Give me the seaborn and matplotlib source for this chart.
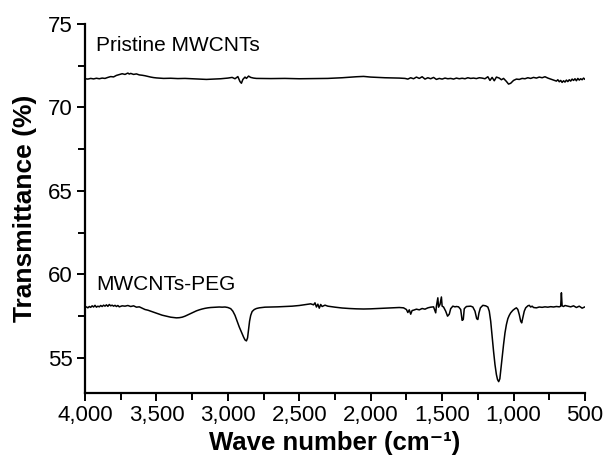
import matplotlib
matplotlib.use("Agg")
import matplotlib.pyplot as plt
from matplotlib.ticker import MultipleLocator, FuncFormatter
import seaborn as sns
import pandas as pd

# ---- data ----
pristine_wn = [4000, 3980, 3960, 3940, 3920, 3900, 3880, 3860, 3840, 3820, 3800, 3780, 3760, 3740,
               3720, 3700, 3690, 3680, 3660, 3640, 3620, 3600, 3580, 3560, 3540, 3520, 3500, 3450,
               3400, 3350, 3300, 3250, 3200, 3150, 3100, 3050, 3000, 2970, 2950, 2930, 2915, 2905,
               2895, 2880, 2870, 2855, 2840, 2820, 2800, 2700, 2600, 2500, 2400, 2300, 2200, 2100,
               2050, 2000, 1950, 1900, 1850, 1800, 1760, 1740, 1720, 1700, 1680, 1660, 1640, 1620,
               1600, 1580, 1560, 1540, 1520, 1500, 1480, 1460, 1440, 1420, 1400, 1380, 1360, 1340,
               1320, 1300, 1280, 1260, 1240, 1220, 1200, 1180, 1165, 1150, 1135, 1120, 1100, 1085,
               1070, 1050, 1035, 1020, 1000, 980, 960, 940, 920, 900, 880, 860, 840, 820, 800, 780,
               760, 740, 720, 700, 690, 680, 670, 660, 650, 640, 630, 620, 610, 600, 590, 580, 570,
               560, 550, 540, 530, 520, 510, 500]
pristine_t = [71.72, 71.70, 71.74, 71.71, 71.75, 71.72, 71.76, 71.74, 71.80, 71.85, 71.83, 71.92, 71.97, 72.02,
              71.98, 72.06, 72.00, 72.04, 71.98, 72.01, 71.95, 71.93, 71.90, 71.86, 71.82, 71.79, 71.77, 71.74,
              71.75, 71.73, 71.74, 71.72, 71.70, 71.68, 71.70, 71.72, 71.76, 71.80, 71.72, 71.85, 71.55, 71.45,
              71.68, 71.82, 71.74, 71.88, 71.80, 71.76, 71.74, 71.73, 71.74, 71.72, 71.73, 71.74, 71.78, 71.84,
              71.86, 71.82, 71.80, 71.78, 71.77, 71.76, 71.74, 71.70, 71.78, 71.72, 71.82, 71.74, 71.84, 71.70,
              71.78, 71.72, 71.80, 71.68, 71.74, 71.70, 71.76, 71.72, 71.74, 71.70, 71.76, 71.72, 71.75, 71.72,
              71.78, 71.74, 71.76, 71.73, 71.78, 71.76, 71.72, 71.84, 71.62, 71.80, 71.60, 71.82, 71.76, 71.66,
              71.74, 71.56, 71.40, 71.45, 71.62, 71.70, 71.68, 71.74, 71.72, 71.78, 71.74, 71.80, 71.76, 71.82,
              71.78, 71.84, 71.76, 71.70, 71.64, 71.58, 71.66, 71.54, 71.62, 71.50, 71.60, 71.52, 71.64, 71.55,
              71.66, 71.58, 71.70, 71.62, 71.72, 71.60, 71.74, 71.64, 71.72, 71.66, 71.76, 71.68]

peg_wn = [4000, 3990, 3980, 3970, 3960, 3950, 3940, 3930, 3920, 3910, 3900, 3890, 3880, 3870, 3860,
          3850, 3840, 3830, 3820, 3810, 3800, 3790, 3780, 3770, 3760, 3740, 3720, 3700, 3680, 3660,
          3640, 3620, 3600, 3580, 3560, 3540, 3520, 3500, 3480, 3460, 3440, 3420, 3400, 3380, 3360,
          3340, 3320, 3300, 3280, 3260, 3240, 3220, 3200, 3180, 3160, 3140, 3120, 3100, 3080, 3060,
          3040, 3020, 3000, 2980, 2965, 2950, 2935, 2920, 2905, 2890, 2880, 2870, 2862, 2855, 2848,
          2840, 2830, 2815, 2800, 2780, 2760, 2740, 2700, 2650, 2600, 2550, 2500, 2450, 2420, 2400,
          2390, 2380, 2370, 2360, 2350, 2340, 2320, 2300, 2250, 2200, 2150, 2100, 2050, 2000, 1950,
          1900, 1850, 1800, 1770, 1750, 1740, 1730, 1720, 1710, 1700, 1680, 1660, 1640, 1620, 1600,
          1580, 1560, 1545, 1540, 1530, 1525, 1515, 1505, 1500, 1490, 1475, 1462, 1450, 1440, 1425,
          1410, 1400, 1385, 1370, 1360, 1352, 1345, 1330, 1300, 1285, 1270, 1258, 1250, 1242, 1232,
          1215, 1195, 1180, 1170, 1160, 1150, 1140, 1130, 1120, 1112, 1104, 1096, 1088, 1080, 1070,
          1060, 1050, 1040, 1030, 1020, 1005, 990, 980, 970, 960, 950, 943, 935, 925, 915, 900,
          890, 880, 870, 860, 840, 820, 800, 780, 760, 740, 720, 700, 680, 670, 665, 660, 650,
          640, 620, 600, 580, 560, 540, 520, 500]
peg_t = [58.02, 58.06, 58.00, 58.08, 58.03, 58.12, 58.05, 58.15, 58.04, 58.10, 58.06, 58.14, 58.08, 58.16, 58.10,
         58.18, 58.09, 58.20, 58.12, 58.16, 58.10, 58.15, 58.08, 58.14, 58.06, 58.12, 58.10, 58.14, 58.08, 58.12,
         58.04, 58.06, 57.98, 57.90, 57.86, 57.80, 57.74, 57.68, 57.62, 57.56, 57.52, 57.48, 57.44, 57.42, 57.40,
         57.41, 57.44, 57.50, 57.58, 57.66, 57.74, 57.82, 57.88, 57.93, 57.97, 58.00, 58.02, 58.03, 58.04, 58.05,
         58.04, 58.05, 58.02, 57.95, 57.80, 57.55, 57.20, 56.85, 56.55, 56.25, 56.08, 56.02, 56.20, 56.70, 57.20,
         57.55, 57.78, 57.90, 57.96, 58.00, 58.02, 58.04, 58.05, 58.06, 58.08, 58.10, 58.14, 58.20, 58.24, 58.18,
         58.30, 58.05, 58.22, 57.98, 58.20, 58.08, 58.16, 58.10, 58.04, 57.99, 57.96, 57.94, 57.93, 57.94, 57.96,
         57.98, 58.00, 58.02, 58.00, 57.90, 57.72, 57.88, 57.62, 57.84, 57.86, 57.92, 57.88, 57.96, 57.92, 58.00,
         58.04, 58.06, 57.70, 58.10, 58.60, 58.04, 58.20, 58.65, 58.10, 58.05, 57.80, 57.50, 57.62, 57.95, 58.10,
         58.06, 58.08, 58.06, 57.90, 57.25, 57.30, 57.95, 58.08, 58.10, 58.05, 57.80, 57.35, 57.30, 57.70, 58.00,
         58.15, 58.12, 58.05, 57.80, 57.20, 56.30, 55.40, 54.60, 54.00, 53.70, 53.58, 53.75, 54.30, 55.00, 55.80,
         56.50, 57.00, 57.35, 57.55, 57.70, 57.85, 57.95, 58.00, 57.90, 57.60, 57.20, 57.10, 57.40, 57.80, 58.00, 58.12,
         58.15, 58.05, 58.10, 58.02, 58.00, 58.05, 58.03, 58.06, 58.04, 58.07, 58.05, 58.08, 58.06, 58.10, 58.90, 58.12, 58.08,
         58.14, 58.10, 58.06, 58.12, 58.02, 58.10, 57.98, 58.06]

series_labels = ["Pristine MWCNTs", "MWCNTs-PEG"]
x_ticks = [4000, 3500, 3000, 2500, 2000, 1500, 1000, 500]
y_ticks = [55, 60, 65, 70, 75]

df = pd.concat([
    pd.DataFrame({"wn": pristine_wn, "t": pristine_t, "sample": series_labels[0]}),
    pd.DataFrame({"wn": peg_wn, "t": peg_t, "sample": series_labels[1]}),
])

sns.set_theme(style="ticks")
plt.rcParams["font.family"] = ["Liberation Sans", "DejaVu Sans"]
plt.rcParams["text.color"] = "black"
plt.rcParams["axes.labelcolor"] = "black"

fig = plt.figure(figsize=(6.05, 4.63), dpi=100)
ax = fig.add_axes([0.1405, 0.1512, 0.8264, 0.797])

sns.lineplot(data=df, x="wn", y="t", units="sample", estimator=None, sort=True,
             color="black", linewidth=1.1, ax=ax, legend=False)

ax.set_xlim(4000, 500)
ax.set_ylim(52.9, 75)
ax.set_xticks(x_ticks)
ax.set_yticks(y_ticks)
ax.xaxis.set_minor_locator(MultipleLocator(250))
ax.yaxis.set_minor_locator(MultipleLocator(2.5))
ax.xaxis.set_major_formatter(FuncFormatter(lambda v, p: f"{int(v):,}"))
ax.tick_params(axis="both", which="major", labelsize=16, length=6, width=1.4,
               color="black", labelcolor="black", direction="out", pad=3)
ax.tick_params(axis="both", which="minor", length=5, width=1.4, color="black")

for s in ["top", "right"]:
    ax.spines[s].set_visible(False)
for s in ["left", "bottom"]:
    ax.spines[s].set_linewidth(1.6)
    ax.spines[s].set_color("black")

ax.set_xlabel("Wave number (cm\u207b\u00b9)", fontsize=18.5, fontweight="bold", labelpad=3)
ax.set_ylabel("Transmittance (%)", fontsize=19, fontweight="bold", labelpad=8)

ax.text(3920, 73.7, series_labels[0], fontsize=15, ha="left", va="center",
        bbox=dict(facecolor="white", edgecolor="none", pad=2))
ax.text(3920, 59.4, series_labels[1], fontsize=15, ha="left", va="center",
        bbox=dict(facecolor="white", edgecolor="none", pad=2))

fig.savefig("out.png", dpi=100, facecolor="white")
